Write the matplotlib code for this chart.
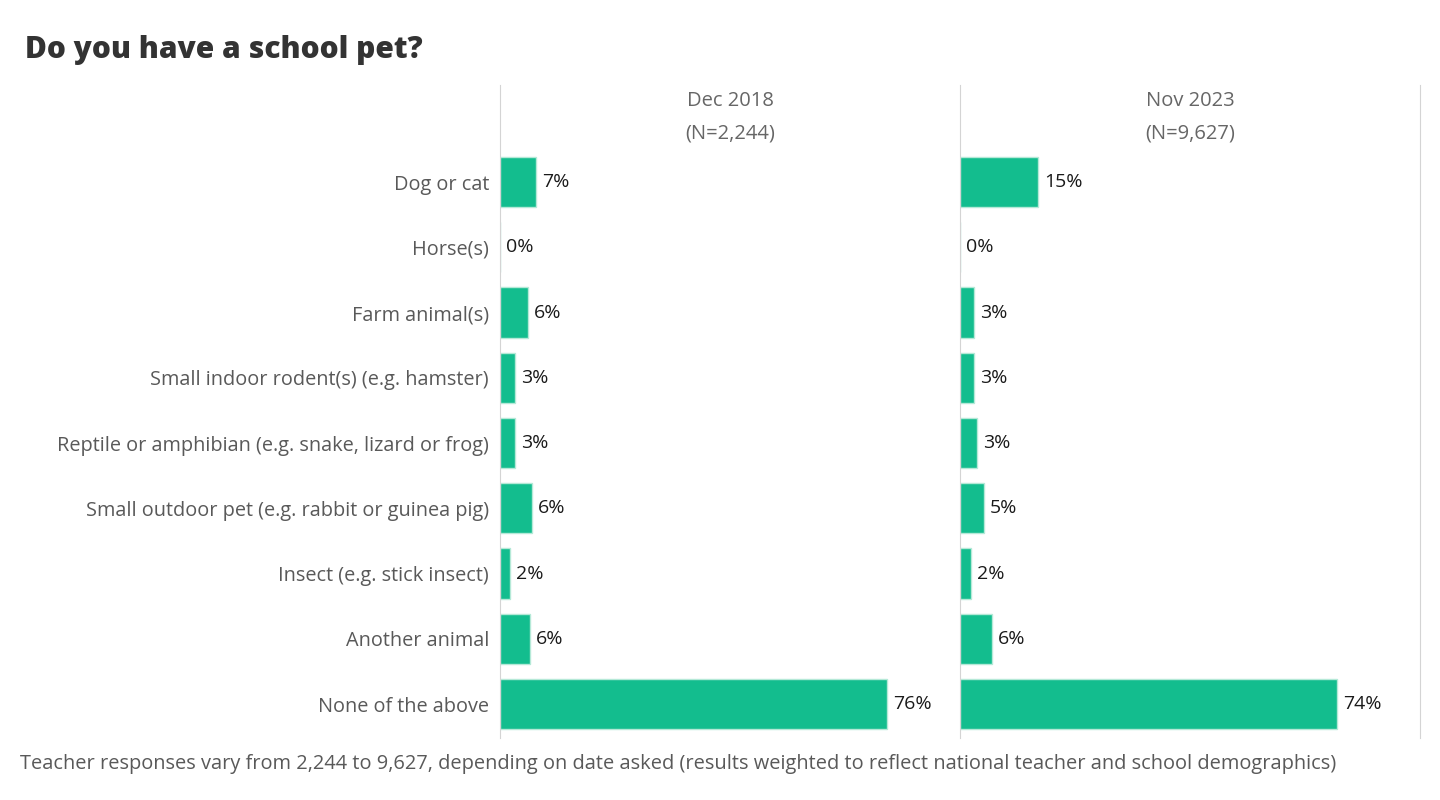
import matplotlib.pyplot as plt

categories = ["Dog or cat", "Horse(s)", "Farm animal(s)", "Small indoor rodent(s) (e.g. hamster)",
              "Reptile or amphibian (e.g. snake, lizard or frog)",
              "Small outdoor pet (e.g. rabbit or guinea pig)", "Insect (e.g. stick insect)",
              "Another animal", "None of the above"]
dec2018 = [7, 0, 6, 3, 3, 6, 2, 6, 76]
nov2023 = [15, 0, 3, 3, 3, 5, 2, 6, 74]
# bar lengths a little off the rounded labels, as in the picture
dec2018_len = [7, 0, 5.5, 3, 3, 6.2, 2, 5.8, 76]
nov2023_len = [15.3, 0, 2.8, 2.8, 3.4, 4.7, 2.1, 6.3, 74]
panels = [("Dec 2018", "(N=2,244)"), ("Nov 2023", "(N=9,627)")]

plt.rcParams['font.family'] = ['Open Sans', 'DejaVu Sans']
green = '#13bd8e'
grey_line = '#d4d4d4'

fig = plt.figure(figsize=(14.4, 8), dpi=100)
ax1 = fig.add_axes([500/1440, 1-738/800, 460/1440, 653/800])
ax2 = fig.add_axes([960/1440, 1-738/800, 460/1440, 653/800])

for ax, vals, lens, (h1, h2) in zip([ax1, ax2], [dec2018, nov2023], [dec2018_len, nov2023_len], panels):
    y = range(len(categories))
    ax.barh(y, lens, height=0.77, color=green, edgecolor='#b5e9d7', linewidth=1)
    for yi, v, l in zip(y, vals, lens):
        ax.text(l + 1.2, yi, f"{v}%", va='center', ha='left', fontsize=14, color='#1a1a1a')
    ax.set_xlim(0, 90.3)
    ax.set_ylim(8.52, -1.487)
    ax.set_xticks([])
    ax.set_yticks([])
    for s in ['top', 'bottom']:
        ax.spines[s].set_visible(False)
    ax.spines['left'].set_color(grey_line)
    ax.spines['right'].set_color(grey_line)
    ax.text(45.15, -1.24, h1, ha='center', va='center', fontsize=14.5, color='#666666')
    ax.text(45.15, -0.75, h2, ha='center', va='center', fontsize=14.5, color='#666666')

ax1.spines['right'].set_visible(False)
ax1.set_yticks(range(len(categories)))
ax1.set_yticklabels(categories, fontsize=14.3, color='#595959')
ax1.tick_params(axis='y', length=0, pad=8)

fig.text(25/1440, 1-50/800, "Do you have a school pet?", fontsize=21.5, fontweight=800,
         color='#333333', va='center', ha='left')
fig.text(20/1440, 1-764/800,
         "Teacher responses vary from 2,244 to 9,627, depending on date asked "
         "(results weighted to reflect national teacher and school demographics)",
         fontsize=14.4, color='#595959', va='center', ha='left')

fig.savefig('out.png', dpi=100, facecolor='white')
